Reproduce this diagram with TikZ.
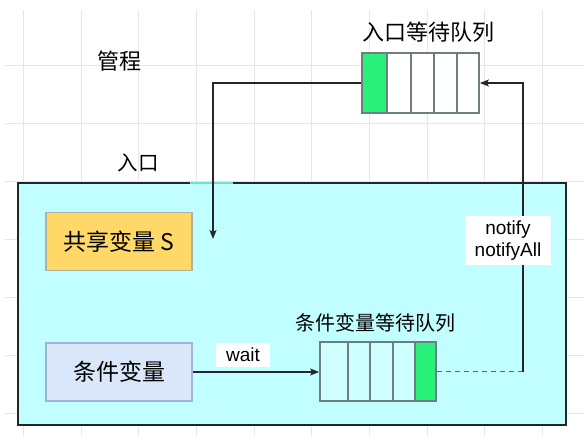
\documentclass[tikz,border=0pt]{standalone}
\usepackage{fontspec}
\setmainfont{Liberation Sans}
\newfontfamily\cjk{Noto Sans CJK SC}
\usetikzlibrary{arrows.meta}
\definecolor{gridc}{RGB}{230,230,230}
\definecolor{monfill}{RGB}{192,254,255}
\definecolor{monedge}{RGB}{30,40,40}
\definecolor{gapc}{RGB}{110,225,200}
\definecolor{qgreen}{RGB}{40,240,120}
\definecolor{qedge}{RGB}{110,125,125}
\definecolor{dashc}{RGB}{80,110,110}
\definecolor{shfill}{RGB}{255,216,104}
\definecolor{shedge}{RGB}{175,175,165}
\definecolor{cvfill}{RGB}{218,230,250}
\definecolor{cvedge}{RGB}{160,180,215}
\definecolor{condqfill}{RGB}{205,255,255}
\tikzset{
  varbox/.style={draw, line width=1.6pt, minimum width=146pt, minimum height=58pt, inner sep=0pt, font=\cjk\fontsize{23}{27}\selectfont},
  queuebox/.style={draw=qedge, line width=1.8pt, inner sep=0pt},
  cjklabel/.style={inner sep=0pt, font=\cjk\fontsize{21}{25}\selectfont},
  conn/.style={line width=1.1pt, draw=black!85},
  tip/.style={-{Stealth[length=9pt,width=7pt,inset=2pt]}},
  edgelabel/.style={fill=white, inner xsep=10pt, inner ysep=5pt, font=\fontsize{19}{22}\selectfont, align=center}
}
\begin{document}
\begin{tikzpicture}[x=1pt,y=-1pt]
\useasboundingbox (0,0) rectangle (584,436);
% background grid
\foreach \gx in {23,81,138,196,254,311,369,427,484,542}
  \draw[gridc, line width=0.8pt] (\gx,10) -- (\gx,436);
\foreach \gy in {65,123,181,239,297,355,413}
  \draw[gridc, line width=0.8pt] (5,\gy) -- (584,\gy);

% monitor box
\node[draw=monedge, fill=monfill, line width=2pt, minimum width=548pt, minimum height=242pt, inner sep=0pt] (monitor) at (292,304) {};
\coordinate (gapl) at (190,183);
\coordinate (gapr) at (233,183);
\draw[gapc, line width=2.2pt] (gapl) -- (gapr);

% labels
\node[cjklabel, font=\cjk\fontsize{22}{26}\selectfont] (guancheng) at (119.5,61) {管程};
\node[cjklabel, font=\cjk\fontsize{20.5}{24}\selectfont] (rukou) at (138,163) {入口};
\node[cjklabel, font=\cjk\fontsize{22}{26}\selectfont] (eqlabel) at (428,32) {入口等待队列};
\node[cjklabel, font=\cjk\fontsize{20}{24}\selectfont] (cqlabel) at (375,323) {条件变量等待队列};

% shared variable and condition variable
\node[varbox, fill=shfill, draw=shedge] (shared) at (119,241.5) {共享变量 S};
\node[varbox, fill=cvfill, draw=cvedge] (cond) at (119,372) {条件变量};

% entry queue
\node[queuebox, fill=white, minimum width=117pt, minimum height=60pt] (entryq) at (420.5,83) {};
\fill[qgreen] (362,53) rectangle (387,113);
\foreach \dx in {387,411,434,457}
  \draw[qedge, line width=1.8pt] (\dx,53) -- (\dx,113);
\node[queuebox, minimum width=117pt, minimum height=60pt] at (420.5,83) {};

% condition queue
\node[queuebox, fill=condqfill, minimum width=116pt, minimum height=59pt] (condq) at (378,371.5) {};
\fill[qgreen] (415,342) rectangle (436,401);
\foreach \dx in {348,370,393,415}
  \draw[qedge, line width=1.8pt] (\dx,342) -- (\dx,401);
\node[queuebox, minimum width=116pt, minimum height=59pt] at (378,371.5) {};

% connectors
\coordinate (sharedin) at (213,239);
\draw[conn, tip] (entryq.west) -| (sharedin);
\draw[conn, tip] (cond.east |- 0,372) -- (condq.west |- 0,372);
\node[edgelabel] (waitlbl) at (243,355) {wait};
\coordinate (turn) at (523,371.5);
\draw[dashc, line width=1.8pt, dash pattern=on 5pt off 4pt] (condq.east) -- (turn);
\draw[conn, tip] (turn) |- (entryq.east);
\node[edgelabel] (notifylbl) at (508,240.5) {notify\\notifyAll};
\end{tikzpicture}
\end{document}
